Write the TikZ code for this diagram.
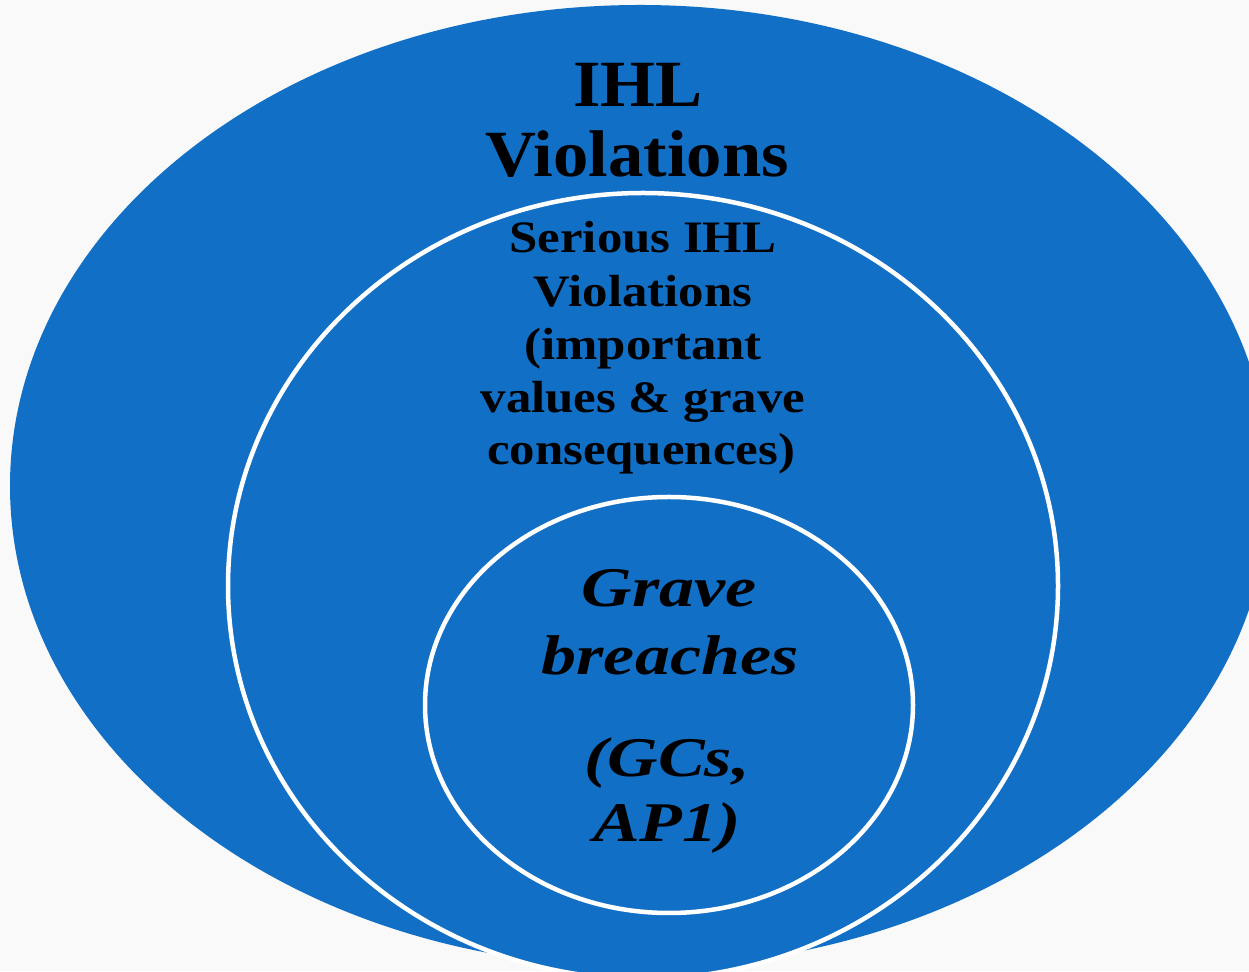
\documentclass[tikz,border=0pt]{standalone}
\usepackage{fontspec}
\setmainfont{Liberation Serif}
\newfontfamily\outerfont[FakeStretch=1.07]{Liberation Serif}
\newfontfamily\midfont[FakeStretch=1.13]{Liberation Serif}
\newfontfamily\innerfont[FakeStretch=1.25]{Liberation Serif}
\definecolor{bluefill}{HTML}{116FC5}
\definecolor{bgcol}{HTML}{F9F9F9}
\tikzset{
  ring/.style={fill=bluefill},
  ringline/.style={fill=bluefill, draw=white, line width=4.5pt},
  lbl/.style={align=center, inner sep=0pt, text=black}
}
\begin{document}
\begin{tikzpicture}[x=1pt,y=1pt]
\useasboundingbox (0,0) rectangle (1249,971);
\fill[bgcol] (0,0) rectangle (1249,971);
% outer ellipse
\path[ring] (640,485) ellipse [x radius=630, y radius=481];
% middle ellipse
\path[ringline] (643,385) ellipse [x radius=415, y radius=393];
% inner ellipse
\path[ringline] (669,266) ellipse [x radius=244, y radius=208];
% texts
\node[lbl, anchor=base] (t1) at (638,864) {\outerfont\bfseries\fontsize{66}{70}\selectfont IHL};
\node[lbl, anchor=base] (t2) at (637,794) {\outerfont\bfseries\fontsize{66}{70}\selectfont Violations};
\node[lbl, anchor=base] (s1) at (643,718) {\midfont\bfseries\fontsize{45}{53}\selectfont Serious IHL};
\node[lbl, anchor=base] (s2) at (643,664) {\midfont\bfseries\fontsize{45}{53}\selectfont Violations};
\node[lbl, anchor=base] (s3) at (643,611) {\midfont\bfseries\fontsize{45}{53}\selectfont (important};
\node[lbl, anchor=base] (s4) at (643,558) {\midfont\bfseries\fontsize{45}{53}\selectfont values \& grave};
\node[lbl, anchor=base] (s5) at (641,506) {\midfont\bfseries\fontsize{45}{53}\selectfont consequences)};
\node[lbl, anchor=base] (g1) at (669,364) {\innerfont\bfseries\itshape\fontsize{56}{66}\selectfont Grave};
\node[lbl, anchor=base] (g2) at (670,296) {\innerfont\bfseries\itshape\fontsize{56}{66}\selectfont breaches};
\node[lbl, anchor=base] (g3) at (667,194) {\innerfont\bfseries\itshape\fontsize{56}{66}\selectfont (GCs,};
\node[lbl, anchor=base] (g4) at (667,129) {\innerfont\bfseries\itshape\fontsize{56}{66}\selectfont AP1)};
\end{tikzpicture}
\end{document}
